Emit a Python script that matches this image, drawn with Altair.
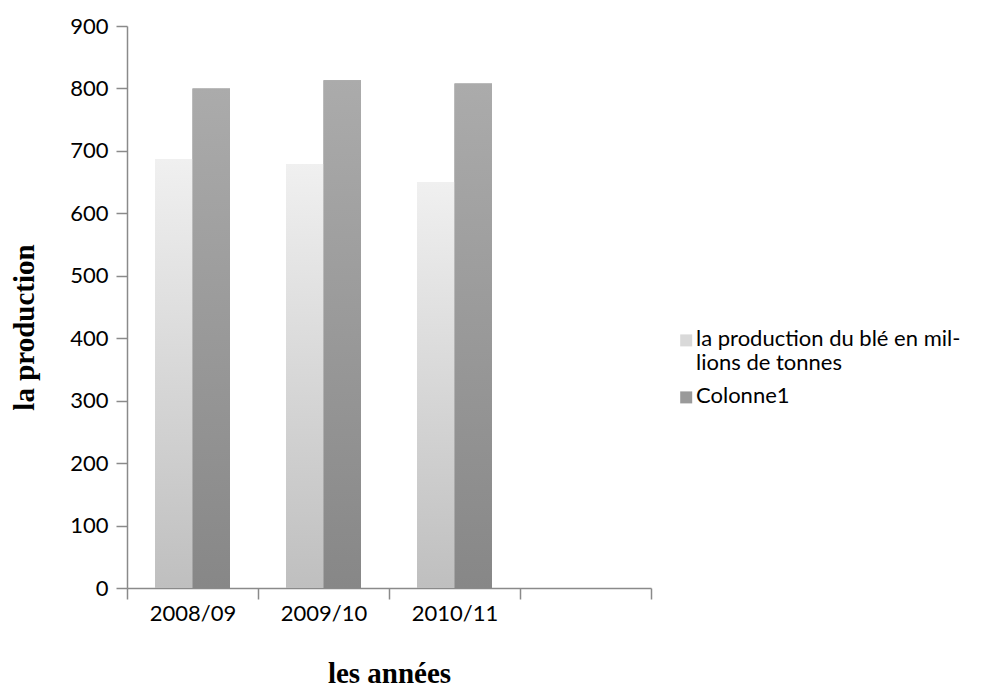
import altair as alt
import pandas as pd

years = ["2008/09", "2009/10", "2010/11"]
x_domain = ["2008/09", "2009/10", "2010/11", " "]
series_a = "la production du blé en millions de tonnes"
series_b = "Colonne1"
production = [687, 679, 650]
colonne1 = [800, 813, 808]

rows = []
for y, a, b in zip(years, production, colonne1):
    rows.append({"year": y, "series": series_a, "value": a})
    rows.append({"year": y, "series": series_b, "value": b})
df = pd.DataFrame(rows)

grad_a = {"gradient": "linear", "x1": 0, "y1": 0, "x2": 0, "y2": 1,
          "stops": [{"offset": 0, "color": "#f0f0f0"}, {"offset": 1, "color": "#bfbfbf"}]}
grad_b = {"gradient": "linear", "x1": 0, "y1": 0, "x2": 0, "y2": 1,
          "stops": [{"offset": 0, "color": "#ababab"}, {"offset": 1, "color": "#878787"}]}

axis_col = "#8a8a8a"
lab_font = "Lato"
lab_size = 22
title_font = "Liberation Serif"
title_size = 29

x_enc = alt.X("year:N", scale=alt.Scale(domain=x_domain, paddingInner=0, paddingOuter=0),
              axis=alt.Axis(title="les années", labelAngle=0, tickBand="extent", tickSize=11,
                            labelPadding=4, titlePadding=35, labelFont=lab_font, labelFontSize=lab_size,
                            titleFont=title_font, titleFontSize=title_size, titleFontWeight="bold",
                            domainColor=axis_col, tickColor=axis_col, domainWidth=1.5, tickWidth=1.5,
                            labelColor="black", titleColor="black"))
y_enc = alt.Y("value:Q", scale=alt.Scale(domain=[0, 900], nice=False),
              axis=alt.Axis(title="la production", values=list(range(0, 901, 100)), grid=False,
                            tickSize=11, labelPadding=8, titlePadding=30, labelFont=lab_font,
                            labelFontSize=lab_size, titleFont=title_font, titleFontSize=title_size,
                            titleFontWeight="bold", titleY=301, domainColor=axis_col, tickColor=axis_col,
                            domainWidth=1.5, tickWidth=1.5, labelColor="black", titleColor="black"))
xo_enc = alt.XOffset("series:N", scale=alt.Scale(domain=[series_a, series_b], paddingInner=0,
                                                 paddingOuter=0.747))

base = alt.Chart(df).mark_bar().encode(
    x=x_enc, y=y_enc, xOffset=xo_enc,
    color=alt.Color("series:N", scale=alt.Scale(domain=[series_a, series_b],
                                                 range=["#d9d9d9", "#9a9a9a"]),
                    legend=alt.Legend(title=None, orient="none", legendX=547, legendY=292,
                                      symbolType="M-0.8,0.9H1.2V2.9H-0.8Z", symbolSize=144,
                                      symbolStrokeWidth=0,
                                      labelFont=lab_font, labelFontSize=lab_size, labelColor="black",
                                      labelLimit=400, rowPadding=1, labelBaseline="top",
                                      labelOffset=0,
                                      labelExpr="datum.label == 'la production du blé en millions de tonnes' ? ['la production du blé en mil-', 'lions de tonnes'] : datum.label"))
)

top_a = alt.Chart(df).transform_filter(alt.datum.series == series_a).mark_bar(fill=grad_a).encode(
    x=x_enc, y=y_enc, xOffset=xo_enc)
top_b = alt.Chart(df).transform_filter(alt.datum.series == series_b).mark_bar(fill=grad_b).encode(
    x=x_enc, y=y_enc, xOffset=xo_enc)

chart = alt.layer(base, top_a, top_b).properties(
    width=524, height=562,
    padding={"left": 2, "top": 7, "right": 5, "bottom": 0}
).configure_view(stroke=None)

chart.save("out.html", embed_options={"renderer": "svg", "actions": False})
